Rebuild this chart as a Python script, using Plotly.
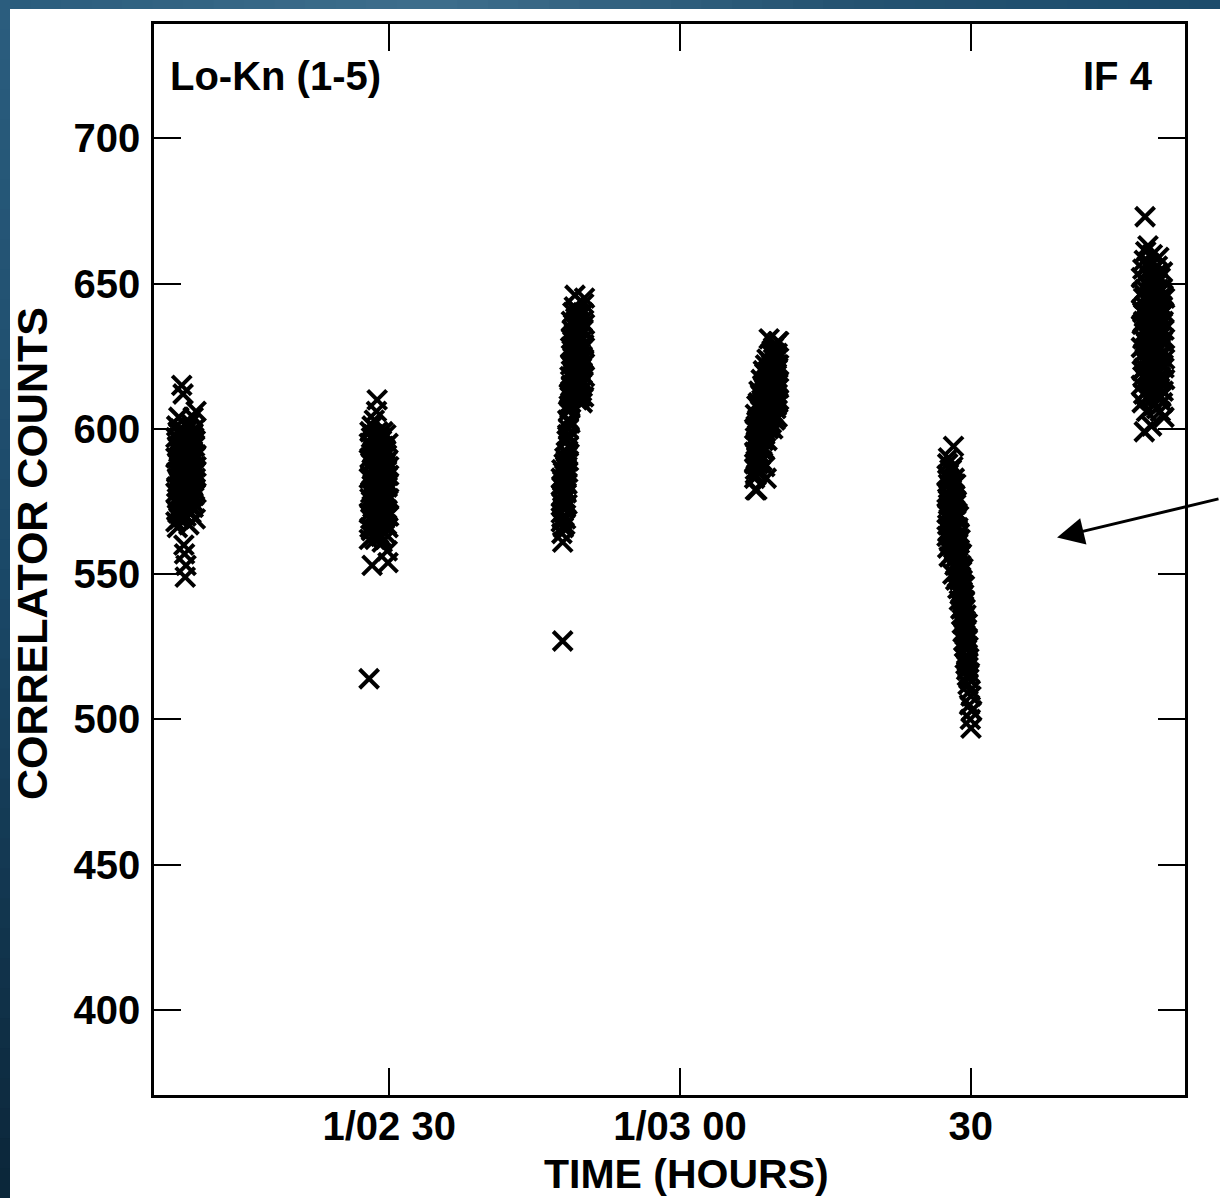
import plotly.graph_objects as go

# ---------------- data (minutes after 1/00 00, correlator counts) ----------------
scan1_times = [128.00, 128.08, 128.15, 128.22, 128.30, 128.37, 128.45, 128.52, 128.60, 128.67,
               128.74, 128.82, 128.89, 128.96, 129.04, 129.11, 129.19, 129.26, 129.34, 129.41,
               129.48, 129.56, 129.63, 129.70, 129.78, 129.85, 129.93, 130.00, 130.08]
scan1_counts = [[590, 578, 568, 597], [585, 601, 572, 580], [594, 583, 576, 566], [588, 599, 580, 571],
                [582, 592, 604, 575], [596, 577, 587, 569], [579, 590, 600, 584], [586, 573, 595, 581],
                [615, 589, 577, 598], [583, 594, 571, 588], [612, 580, 597, 586], [574, 591, 584, 560],
                [557, 587, 599, 579], [592, 549, 582, 596], [581, 595, 570, 553], [589, 576, 601, 584],
                [578, 593, 586, 572], [595, 582, 574, 590], [587, 600, 579, 567], [580, 591, 585, 596],
                [593, 576, 602, 583], [584, 597, 571, 589], [577, 588, 594, 581], [598, 583, 575, 592],
                [586, 604, 580, 573], [582, 590, 597, 577], [594, 579, 587, 600], [585, 596, 569, 583],
                [606, 591, 578, 587]]

scan2_times = [147.93, 147.95, 148.02, 148.10, 148.17, 148.24, 148.32, 148.39, 148.47, 148.54,
               148.62, 148.69, 148.76, 148.84, 148.91, 148.99, 149.06, 149.14, 149.21, 149.28,
               149.36, 149.43, 149.51, 149.58, 149.66, 149.73, 149.80, 149.88, 149.95]
scan2_counts = [[514], [583, 571, 595, 562], [590, 576, 566, 599], [578, 594, 584, 569], [597, 565, 588, 575],
                [553, 586, 579, 601], [573, 592, 581, 563], [589, 577, 598, 568], [582, 603, 571, 587],
                [575, 590, 562, 596], [593, 580, 585, 570], [568, 595, 578, 606], [610, 584, 573, 591],
                [587, 569, 599, 577], [579, 596, 564, 583], [592, 574, 588, 566], [571, 586, 580, 597],
                [584, 563, 594, 576], [596, 578, 570, 589], [574, 591, 583, 561], [588, 567, 599, 579],
                [581, 594, 572, 586], [569, 585, 592, 577], [593, 576, 564, 588], [578, 598, 582, 570],
                [586, 567, 591, 575], [572, 589, 580, 558], [554, 581, 595, 566], [584, 570, 587, 576]]

scan3_times = [167.75, 167.82, 167.90, 167.97, 168.05, 168.12, 168.20, 168.27, 168.35, 168.42,
               168.50, 168.57, 168.65, 168.72, 168.80, 168.87, 168.95, 169.02, 169.10, 169.17,
               169.25, 169.32, 169.40, 169.47, 169.55, 169.62, 169.70, 169.77, 169.85, 169.92,
               170.00, 170.07, 170.15]
scan3_counts = [[575, 568, 583, 571], [580, 564, 577, 586], [561, 573, 569, 582, 527], [578, 585, 566, 574],
                [570, 581, 588, 576], [584, 567, 579, 590], [573, 587, 576, 569], [589, 578, 583, 592],
                [581, 596, 574, 587], [598, 585, 591, 603], [594, 606, 589, 600], [612, 603, 597, 608],
                [607, 618, 611, 602], [622, 613, 628, 609], [615, 631, 620, 637], [627, 611, 634, 618],
                [640, 623, 615, 630], [619, 636, 626, 612], [633, 621, 642, 617], [646, 628, 614, 635],
                [624, 638, 620, 631], [613, 629, 641, 622], [636, 618, 627, 610], [625, 640, 616, 633],
                [617, 630, 623, 637], [632, 621, 639, 614], [620, 635, 626, 611], [639, 624, 617, 630],
                [627, 613, 634, 621], [619, 637, 625, 609], [634, 622, 640, 616], [624, 643, 611, 629],
                [645, 628, 618, 636]]

scan4_times = [187.70, 187.78, 187.85, 187.93, 188.00, 188.08, 188.15, 188.23, 188.30, 188.38,
               188.45, 188.53, 188.60, 188.68, 188.75, 188.83, 188.90, 188.98, 189.05, 189.13,
               189.20, 189.28, 189.35, 189.43, 189.50, 189.58, 189.65, 189.73, 189.80, 189.88,
               189.95, 190.03, 190.10, 190.18]
scan4_counts = [[592, 583, 600, 588], [597, 586, 579, 605], [589, 601, 594, 584], [579, 596, 608, 590],
                [603, 591, 586, 598], [595, 609, 588, 600], [586, 602, 613, 597], [607, 594, 600, 589],
                [599, 612, 591, 604], [593, 606, 617, 598], [610, 597, 603, 589], [601, 615, 594, 608],
                [596, 609, 620, 603], [614, 600, 593, 611], [605, 619, 598, 587], [599, 612, 622, 606],
                [583, 608, 616, 601], [611, 603, 624, 596], [604, 618, 609, 613], [620, 600, 614, 607],
                [631, 612, 605, 619], [608, 623, 615, 601], [616, 604, 626, 611], [602, 619, 610, 622],
                [613, 627, 606, 617], [621, 608, 618, 600], [609, 624, 613, 628], [618, 605, 621, 612],
                [626, 614, 603, 620], [611, 629, 617, 607], [619, 608, 624, 615], [604, 622, 612, 626],
                [616, 630, 609, 621], [630, 614, 622, 610]]

scan5_times = [207.55, 207.62, 207.70, 207.77, 207.85, 207.92, 208.00, 208.07, 208.15, 208.22,
               208.30, 208.37, 208.45, 208.52, 208.60, 208.67, 208.75, 208.82, 208.90, 208.97,
               209.05, 209.12, 209.20, 209.27, 209.35, 209.42, 209.50, 209.57, 209.65, 209.72,
               209.80, 209.87, 209.95, 210.02, 210.10]
scan5_counts = [[584, 571, 563, 578], [576, 588, 567, 559], [581, 565, 574, 590], [569, 583, 577, 556],
                [586, 572, 561, 579], [575, 560, 582, 568], [563, 579, 571, 586], [580, 566, 557, 574],
                [571, 587, 562, 550], [594, 575, 568, 559], [558, 583, 570, 565], [577, 562, 553, 572],
                [566, 574, 581, 548], [560, 556, 569, 575], [571, 549, 563, 557], [554, 566, 545, 561],
                [562, 551, 558, 570], [548, 564, 541, 555], [557, 543, 552, 562], [545, 553, 538, 549],
                [551, 536, 546, 557], [540, 548, 533, 544], [546, 530, 541, 552], [535, 543, 527, 539],
                [541, 525, 533, 546], [529, 538, 521, 534], [536, 519, 527, 531], [522, 531, 524, 517],
                [528, 515, 520, 533], [518, 525, 512], [514, 521], [505, 516], [500, 510],
                [497, 508], [503]]

scan6_times = [227.60, 227.68, 227.75, 227.83, 227.90, 227.98, 228.05, 228.13, 228.20, 228.28,
               228.35, 228.43, 228.50, 228.58, 228.65, 228.73, 228.80, 228.88, 228.95, 229.03,
               229.10, 229.18, 229.25, 229.33, 229.40, 229.48, 229.55, 229.63, 229.70, 229.78,
               229.85, 229.93, 230.00]
scan6_counts = [[628, 641, 615, 652], [636, 620, 647, 609], [618, 655, 631, 640], [645, 626, 612, 637],
                [599, 633, 658, 621], [673, 639, 624, 648], [630, 661, 617, 642], [650, 623, 635, 606],
                [619, 644, 656, 628], [638, 611, 632, 663], [627, 649, 620, 640], [657, 634, 614, 645],
                [616, 641, 652, 625], [644, 622, 637, 610], [601, 653, 629, 646], [632, 618, 660, 639],
                [648, 626, 613, 636], [621, 655, 642, 608], [640, 631, 619, 651], [612, 646, 634, 626],
                [653, 624, 641, 615], [629, 650, 607, 638], [643, 617, 632, 656], [620, 639, 648, 611],
                [635, 659, 623, 643], [647, 614, 637, 628], [618, 633, 652, 606], [639, 625, 611, 645],
                [626, 648, 634, 617], [642, 609, 630, 654], [613, 637, 622, 646], [634, 621, 640, 604],
                [624, 645, 617, 631]]

tick_vals = [150, 180, 210]
tick_text = ["1/02 30", "1/03 00", "30"]
y_ticks = [400, 450, 500, 550, 600, 650, 700]

scans = [(scan1_times, scan1_counts), (scan2_times, scan2_counts), (scan3_times, scan3_counts),
         (scan4_times, scan4_counts), (scan5_times, scan5_counts), (scan6_times, scan6_counts)]

FONT = "Liberation Sans, Arial, Helvetica, sans-serif"

fig = go.Figure()
for times, counts in scans:
    xs, ys = [], []
    for t, row in zip(times, counts):
        for v in row:
            xs.append(t)
            ys.append(v)
    fig.add_trace(go.Scatter(
        x=xs, y=ys, mode="markers", showlegend=False, hoverinfo="skip",
        marker=dict(symbol="x-thin", size=19, color="black",
                    line=dict(color="black", width=4)),
    ))

# ---- background blue gradient strips (left and top edges) ----
W, H = 1220, 1198
L, R, T, B = 154, 35, 24, 103
pw, ph = W - L - R, H - T - B


def px2x(px):
    return (px - L) / pw


def py2y(py):
    return 1 - (py - T) / ph


def lerp(c1, c2, f):
    return tuple(int(round(a + (b - a) * f)) for a, b in zip(c1, c2))


def grad(stops, f):
    for (f0, c0), (f1, c1) in zip(stops[:-1], stops[1:]):
        if f0 <= f <= f1:
            return lerp(c0, c1, (f - f0) / (f1 - f0) if f1 > f0 else 0)
    return stops[-1][1]


shapes = []
top_stops = [(0.0, (42, 92, 124)), (0.35, (62, 110, 140)), (0.7, (36, 82, 112)), (1.0, (28, 76, 108))]
n = 40
for i in range(n):
    f = (i + 0.5) / n
    c = grad(top_stops, f)
    shapes.append(dict(type="rect", xref="paper", yref="paper", layer="above",
                       x0=px2x(W * i / n), x1=px2x(W * (i + 1) / n + 1),
                       y0=py2y(9), y1=py2y(0),
                       fillcolor="rgb(%d,%d,%d)" % c, line=dict(width=0)))
left_stops = [(0.0, (43, 94, 127)), (0.5, (26, 71, 102)), (1.0, (11, 38, 57))]
for i in range(n):
    f = (i + 0.5) / n
    c = grad(left_stops, f)
    shapes.append(dict(type="rect", xref="paper", yref="paper", layer="above",
                       x0=px2x(0), x1=px2x(10),
                       y0=py2y(H * (i + 1) / n + 1), y1=py2y(H * i / n),
                       fillcolor="rgb(%d,%d,%d)" % c, line=dict(width=0)))

axis_common = dict(showline=True, linewidth=2.5, linecolor="black", mirror="allticks",
                   ticks="inside", ticklen=27, tickwidth=2, tickcolor="black",
                   showgrid=False, zeroline=False, automargin=False,
                   tickfont=dict(family=FONT, size=40, color="black", weight="bold"))

title_font = dict(family=FONT, size=41, color="black", weight="bold")

fig.update_layout(
    width=W, height=H,
    margin=dict(l=L, r=R, t=T, b=B),
    paper_bgcolor="white", plot_bgcolor="white",
    xaxis=dict(range=[125.74, 232.10], tickmode="array", tickvals=tick_vals, ticktext=tick_text,
               ticklabelstandoff=-6, **axis_common),
    yaxis=dict(range=[370.75, 739.34], tickmode="array", tickvals=y_ticks,
               ticklabelstandoff=3, **axis_common),
    shapes=shapes,
    annotations=[
        dict(text="TIME (HOURS)", xref="paper", yref="paper", x=px2x(686), y=py2y(1174),
             xanchor="center", yanchor="middle", showarrow=False, font=title_font),
        dict(text="CORRELATOR COUNTS", xref="paper", yref="paper", x=px2x(32), y=py2y(554),
             xanchor="center", yanchor="middle", showarrow=False, textangle=-90,
             font=dict(family=FONT, size=43, color="black", weight="bold")),
        dict(text="Lo-Kn (1-5)", xref="paper", yref="paper", x=px2x(168), y=py2y(76),
             xanchor="left", yanchor="middle", showarrow=False,
             font=dict(family=FONT, size=40, color="black", weight="bold")),
        dict(text="IF 4", xref="paper", yref="paper", x=px2x(1155), y=py2y(76),
             xanchor="right", yanchor="middle", showarrow=False,
             font=dict(family=FONT, size=40, color="black", weight="bold")),
        dict(text="", x=218.9, y=562.6, xref="x", yref="y", showarrow=True,
             ax=175, ay=-39, axref="pixel", ayref="pixel",
             arrowhead=2, arrowsize=1.8, arrowwidth=3, arrowcolor="black"),
    ],
)

fig.write_html("out.html")
